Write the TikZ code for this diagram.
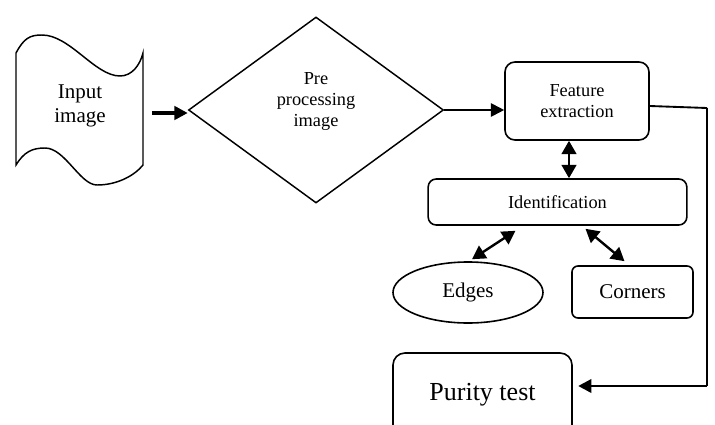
\documentclass[tikz,border=0pt]{standalone}
\usepackage{fontspec}
\setmainfont{Liberation Serif}
\usetikzlibrary{shapes.geometric, arrows.meta, calc, positioning}

\tikzset{
  bigtext/.style={font=\fontsize{15.75}{18.5}\selectfont},
  midtext/.style={font=\fontsize{13.75}{16}\selectfont},
  hugetext/.style={font=\fontsize{19.5}{23}\selectfont},
  box/.style={draw, line width=1.2pt, rounded corners=6pt, align=center, inner sep=0pt},
  decision/.style={draw, diamond, line width=1.1pt, align=center, inner sep=0pt},
  arr/.style={-{Triangle[length=10pt,width=10pt]}, line width=1.6pt},
  dbl/.style={{Triangle[length=10pt,width=11pt]}-{Triangle[length=10pt,width=11pt]}, line width=1.8pt},
}

\begin{document}
\begin{tikzpicture}[x=0.75pt, y=-0.75pt]
    \clip (0,0) rectangle (715,425);
    \fill[white] (0,0) rectangle (715,425);

    % input sheet
    \draw[line width=1.1pt] (16,53) .. controls (24,38) and (30,35) .. (42,35)
        .. controls (70,35) and (95,76) .. (120,76)
        .. controls (132,76) and (140,65) .. (143,53) -- (143,165)
        .. controls (135,175) and (118,185) .. (97,185)
        .. controls (80,185) and (65,148) .. (45,148)
        .. controls (32,148) and (24,152) .. (16,165) -- cycle;
    \node[bigtext, align=center, minimum width=95.25pt, minimum height=100pt, inner sep=0pt] (input) at (80,106) {Input\\image};

    \node[decision, midtext, minimum width=191.25pt, minimum height=139.5pt] (pre) at (316,110) {Pre\\processing\\image\\\mbox{}};

    \node[box, midtext, minimum width=108pt, minimum height=58.5pt, rounded corners=7.5pt] (feat) at (577,101) {Feature\\extraction};

    \node[box, midtext, minimum width=194pt, minimum height=34.5pt] (ident) at (557.5,202) {Identification};

    \node[draw, ellipse, line width=1.2pt, bigtext, minimum width=112.5pt, minimum height=45.75pt, inner sep=0pt] (edges) at (468,292.5) {Edges};

    \node[box, bigtext, minimum width=90.75pt, minimum height=39pt, rounded corners=4.5pt] (corners) at (632.5,292) {Corners};

    \node[box, hugetext, minimum width=134.25pt, minimum height=63pt, rounded corners=9pt] (purity) at (482.5,395) {Purity test};

    % connectors
    \coordinate (inarr) at ($(input.east)+(8,7)$);
    \draw[arr, line width=2.6pt] (inarr) -- (inarr -| pre.west);
    \draw[arr, line width=1.4pt] (pre.east) -- (pre.east -| feat.west);

    \draw[dbl] ([xshift=-6pt]feat.south) -- ([xshift=-6pt]feat.south |- ident.north);
    \draw[dbl] ($(ident.south)+(-42,5)$) -- ($(edges.north)+(4,-2)$);
    \draw[dbl] ($(ident.south)+(28,3)$) -- ($(corners.north)+(-8,-4)$);

    % back to purity test
    \coordinate (turn) at (707,108);
    \coordinate (back) at (707,386);
    \draw[line width=1.4pt] ($(feat.east)+(0,5)$) -- (turn);
    \draw[line width=0.8pt] (turn) -- (back);
    \draw[arr, line width=2.2pt, shorten >=4pt] (back) -- (back -| purity.east);
\end{tikzpicture}
\end{document}
